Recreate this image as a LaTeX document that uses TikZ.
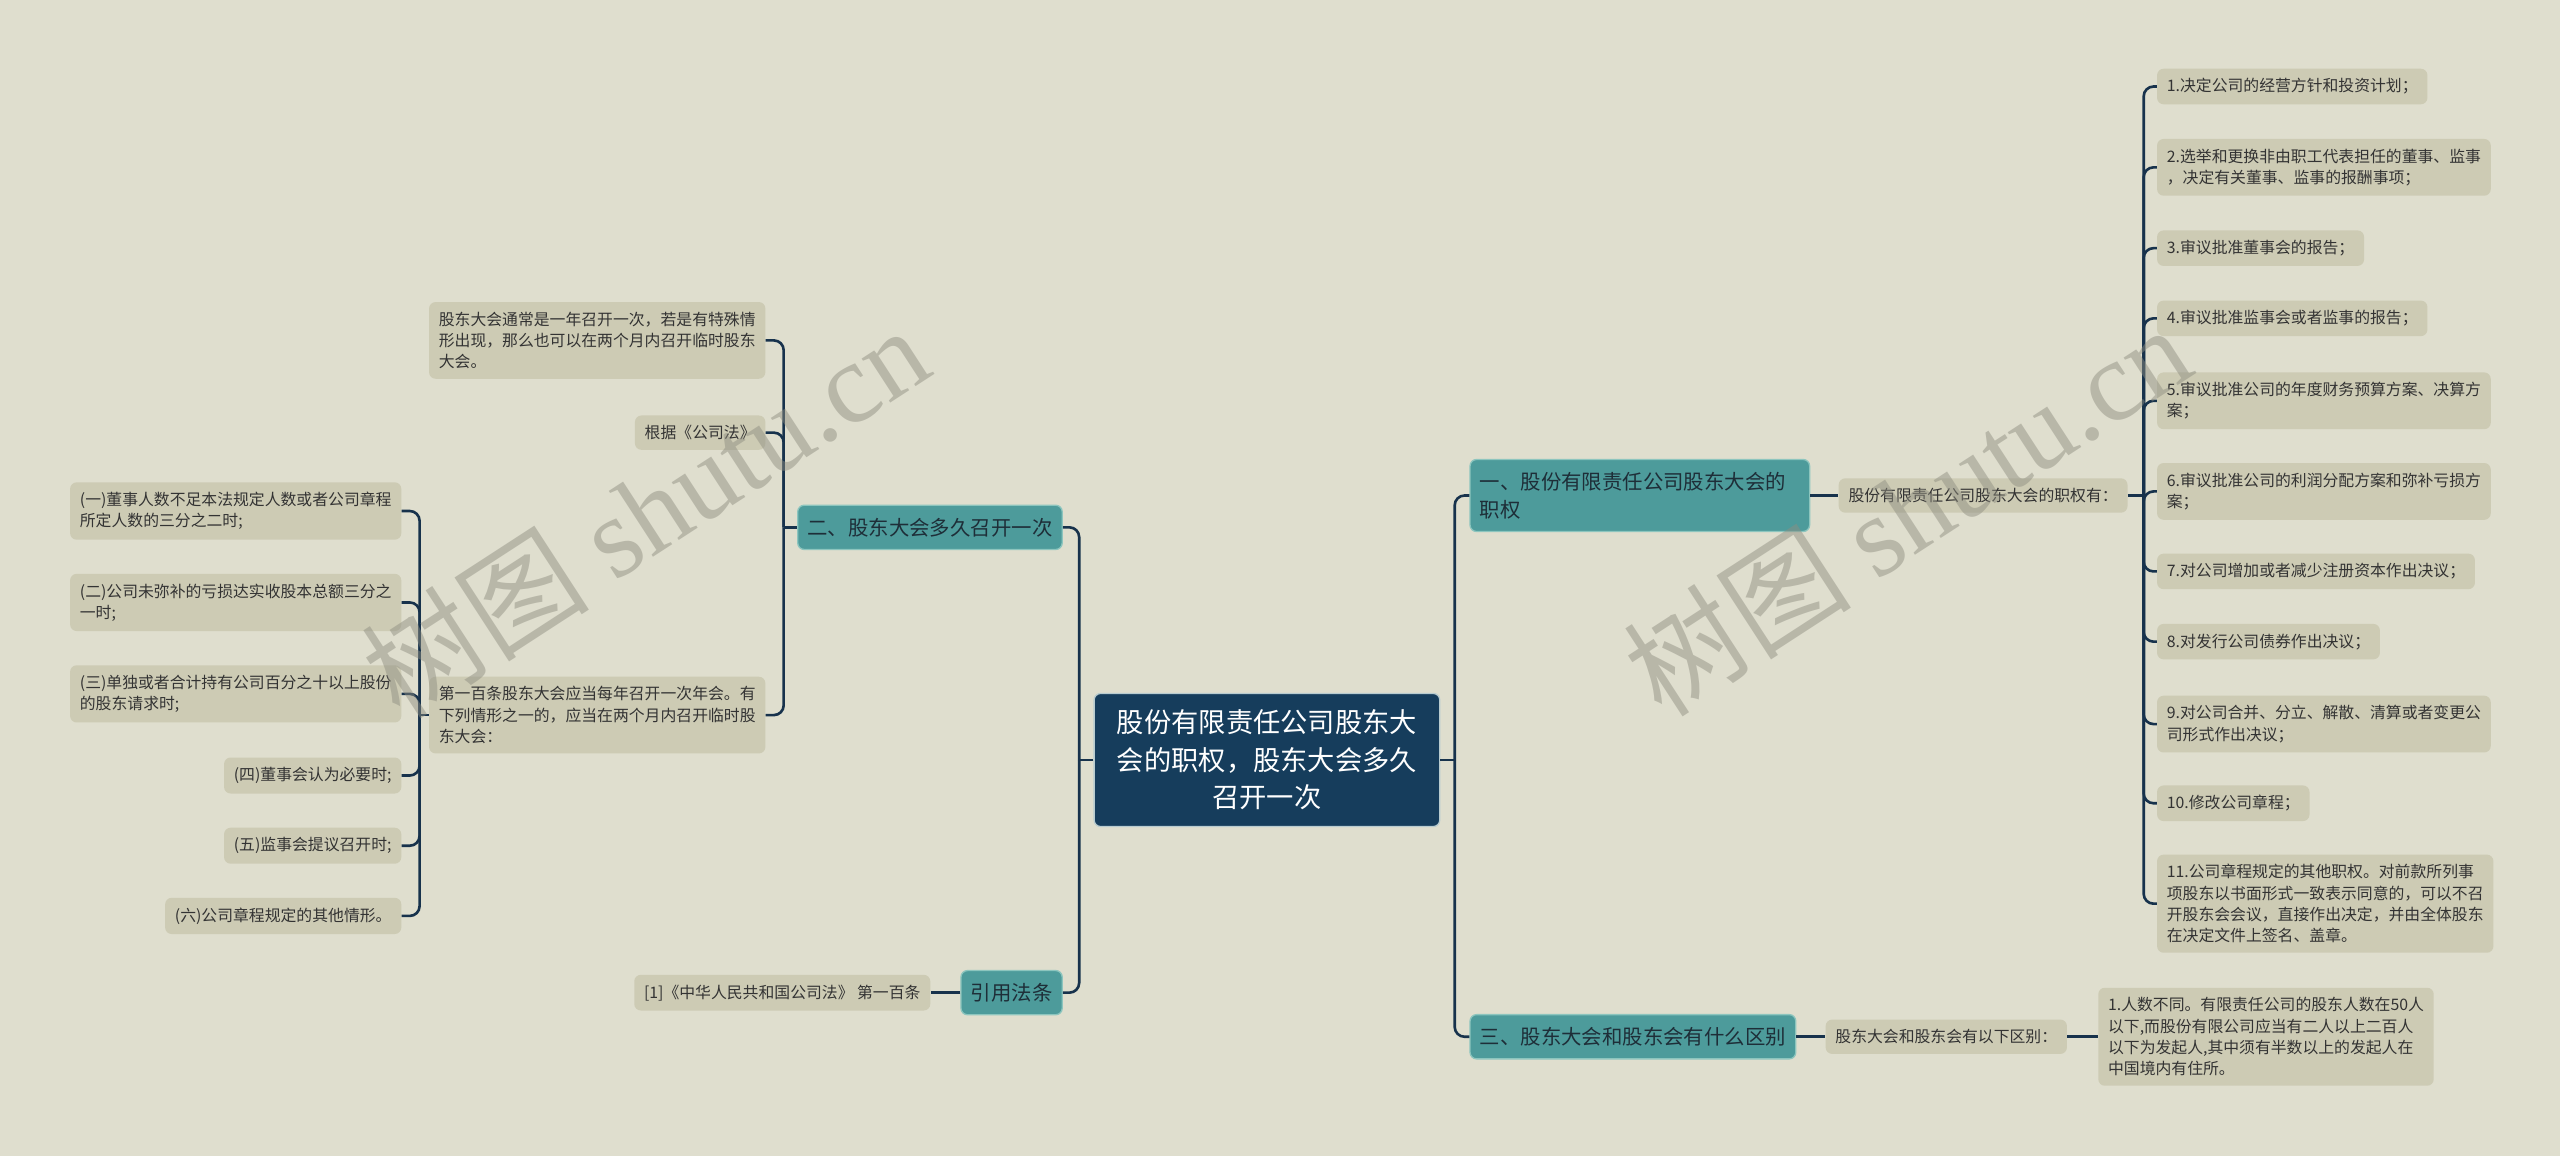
\documentclass[tikz,border=0pt]{standalone}
\usepackage{fontspec}
\setmainfont{Noto Sans CJK SC}
\newfontfamily\wmlatin{Liberation Serif}
\usetikzlibrary{calc}

\definecolor{bg}{HTML}{DFDECE}
\definecolor{gbox}{HTML}{CDCBB4}
\definecolor{tealfill}{HTML}{4D9B9B}
\definecolor{tealedge}{HTML}{8CC5BE}
\definecolor{rootfill}{HTML}{163D5C}
\definecolor{rootedge}{HTML}{B8CCD0}
\definecolor{linec}{HTML}{17324C}
\definecolor{txt}{HTML}{333333}
\definecolor{toptxt}{HTML}{1E2E38}
\definecolor{wm}{HTML}{8E8D80}

\begin{document}
\begin{tikzpicture}[x=1pt,y=-1pt,
  leaf/.style={fill=gbox, rounded corners=4pt, inner xsep=6pt, inner ysep=6pt,
    align=left, text=txt, font=\fontsize{9.7}{13}\selectfont},
  topic/.style={fill=tealfill, draw=tealedge, line width=0.8pt, rounded corners=4pt,
    inner xsep=6pt, inner ysep=7.75pt, align=left, text=toptxt,
    font=\fontsize{12.5}{17}\selectfont},
  rootbox/.style={fill=rootfill, draw=rootedge, line width=0.8pt, rounded corners=4pt,
    inner xsep=14pt, inner ysep=10pt, align=center, text=white,
    font=\fontsize{16.7}{23}\selectfont},
  conn/.style={draw=linec, line width=1.6pt, rounded corners=6pt},
  wmark/.style={text=wm, opacity=0.48, font=\fontsize{70}{70}\selectfont, inner sep=0pt}
]
\fill[bg] (0,0) rectangle (1568,708);
\useasboundingbox (0,0) rectangle (1568,708);

% bus x positions
\coordinate (xL) at (661,0);
\coordinate (xR) at (891,0);
\coordinate (x2) at (480,0);
\coordinate (x3) at (257,0);
\coordinate (x4) at (1313,0);

% root
\node[rootbox] (root) at (776,465.5) {股份有限责任公司股东大\\会的职权，股东大会多久\\召开一次};

% level 1
\node[topic, anchor=east] (t2) at (651,323) {二、股东大会多久召开一次};
\node[topic, anchor=east] (tcite) at (651,608) {引用法条};
\node[topic, anchor=west, text width=196pt] (t1) at (900,303.5) {一、股份有限责任公司股东大会的\\职权};
\node[topic, anchor=west] (t3) at (900,635) {三、股东大会和股东会有什么区别};

% left level 2
\node[leaf, anchor=east] (a1) at (469,208.5) {股东大会通常是一年召开一次，若是有特殊情\\形出现，那么也可以在两个月内召开临时股东\\大会。};
\node[leaf, anchor=east] (a2) at (469,265) {根据《公司法》};
\node[leaf, anchor=east] (a3) at (469,438) {第一百条股东大会应当每年召开一次年会。有\\下列情形之一的，应当在两个月内召开临时股\\东大会：};
\node[leaf, anchor=east] (c1) at (570,608) {[1]《中华人民共和国公司法》 第一百条};

% left level 3
\node[leaf, anchor=east] (b1) at (246,313) {(一)董事人数不足本法规定人数或者公司章程\\所定人数的三分之二时;};
\node[leaf, anchor=east] (b2) at (246,369) {(二)公司未弥补的亏损达实收股本总额三分之\\一时;};
\node[leaf, anchor=east] (b3) at (246,425) {(三)单独或者合计持有公司百分之十以上股份\\的股东请求时;};
\node[leaf, anchor=east] (b4) at (246,475) {(四)董事会认为必要时;};
\node[leaf, anchor=east] (b5) at (246,518) {(五)监事会提议召开时;};
\node[leaf, anchor=east] (b6) at (246,561) {(六)公司章程规定的其他情形。};

% right
\node[leaf, anchor=west] (r0) at (1126,303.5) {股份有限责任公司股东大会的职权有：};
\node[leaf, anchor=west] (r1) at (1321,53) {1.决定公司的经营方针和投资计划；};
\node[leaf, anchor=west] (r2) at (1321,102.5) {2.选举和更换非由职工代表担任的董事、监事\\，决定有关董事、监事的报酬事项；};
\node[leaf, anchor=west] (r3) at (1321,152) {3.审议批准董事会的报告；};
\node[leaf, anchor=west] (r4) at (1321,195) {4.审议批准监事会或者监事的报告；};
\node[leaf, anchor=west] (r5) at (1321,245.5) {5.审议批准公司的年度财务预算方案、决算方\\案；};
\node[leaf, anchor=west] (r6) at (1321,301) {6.审议批准公司的利润分配方案和弥补亏损方\\案；};
\node[leaf, anchor=west] (r7) at (1321,350) {7.对公司增加或者减少注册资本作出决议；};
\node[leaf, anchor=west] (r8) at (1321,393) {8.对发行公司债券作出决议；};
\node[leaf, anchor=west] (r9) at (1321,443.5) {9.对公司合并、分立、解散、清算或者变更公\\司形式作出决议；};
\node[leaf, anchor=west] (r10) at (1321,492) {10.修改公司章程；};
\node[leaf, anchor=west] (r11) at (1321,553.5) {11.公司章程规定的其他职权。对前款所列事\\项股东以书面形式一致表示同意的，可以不召\\开股东会会议，直接作出决定，并由全体股东\\在决定文件上签名、盖章。};

\node[leaf, anchor=west] (s0) at (1118,635) {股东大会和股东会有以下区别：};
\node[leaf, anchor=west] (s1) at (1285,635) {1.人数不同。有限责任公司的股东人数在50人\\以下,而股份有限公司应当有二人以上二百人\\以下为发起人,其中须有半数以上的发起人在\\中国境内有住所。};

% connectors: root
\draw[conn] (root.west) -- (root.west -| xL);
\foreach \c in {t2,tcite} \draw[conn] (root.west -| xL) |- (\c.east);
\draw[conn] (root.east) -- (root.east -| xR);
\foreach \c in {t1,t3} \draw[conn] (root.east -| xR) |- (\c.west);

% left subtree
\draw[conn] (t2.west) -- (t2.west -| x2);
\foreach \c in {a1,a2,a3} \draw[conn] (t2.west -| x2) |- (\c.east);
\draw[conn] (a3.west) -- (a3.west -| x3);
\foreach \c in {b1,b2,b3,b4,b5,b6} \draw[conn] (a3.west -| x3) |- (\c.east);
\draw[conn] (tcite.west) -- (c1.east);

% right subtree
\draw[conn] (t1.east) -- (r0.west);
\draw[conn] (r0.east) -- (r0.east -| x4);
\foreach \c in {r1,r2,r3,r4,r5,r6,r7,r8,r9,r10,r11} \draw[conn] (r0.east -| x4) |- (\c.west);
\draw[conn] (t3.east) -- (s0.west);
\draw[conn] (s0.east) -- (s1.west);

% watermarks
\node[wmark, rotate=33] (wm1) at (395,313) {树图 {\wmlatin shutu.cn}};
\node[wmark, rotate=33] (wm2) at (1168,312) {树图 {\wmlatin shutu.cn}};
\end{tikzpicture}
\end{document}
